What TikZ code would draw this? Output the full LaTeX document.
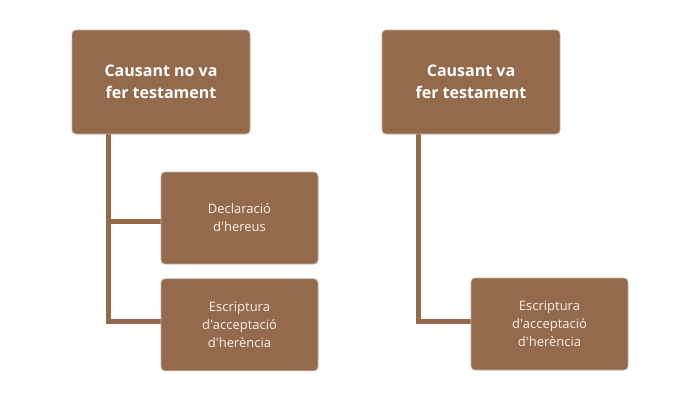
\documentclass[tikz,border=0pt]{standalone}
\usepackage{fontspec}
\setmainfont{Open Sans}
\usepackage{tikz}
\usetikzlibrary{positioning,backgrounds}
\definecolor{boxbrown}{HTML}{936A4C}
\definecolor{boxtext}{HTML}{F7EFE8}

\begin{document}
\begin{tikzpicture}[x=1pt,y=-1pt,line join=round,
                    case node/.style={rectangle,rounded corners=4pt,fill=boxbrown,draw=boxbrown!55!white,line width=0.8pt,
                      minimum width=178pt,minimum height=104pt,align=center,text=white,
                      font=\fontsize{16}{22}\selectfont\bfseries},
                    doc node/.style={rectangle,rounded corners=4pt,fill=boxbrown,draw=boxbrown!55!white,line width=0.8pt,
                      minimum width=157pt,minimum height=92pt,align=center,text=boxtext,
                      font=\fontsize{13}{18}\selectfont},
                    link/.style={draw=boxbrown,line width=5pt}]
  \useasboundingbox (0,0) rectangle (700,400);

  \node[case node] (no) at (161,82) {Causant no va\\fer testament};
  \node[case node] (yes) at (471,82) {Causant va\\fer testament};

  \node[doc node] (decl) at (239.5,218) {Declaració\\d\textquotesingle hereus};
  \node[doc node] (accA) [below=14pt of decl] {Escriptura\\d\textquotesingle acceptació\\d\textquotesingle herència};
  \node[doc node] (accB) at (549.5,324) {Escriptura\\d\textquotesingle acceptació\\d\textquotesingle herència};

  \coordinate (noroot) at ([xshift=-53pt]no.south);
  \coordinate (yesroot) at ([xshift=-53pt]yes.south);

  \begin{scope}[on background layer]
    \draw[link] (noroot) |- ([yshift=3pt]accA.west);
    \draw[link] (noroot) |- ([yshift=-3pt]decl.west);
    \draw[link] (yesroot) |- ([yshift=3pt]accB.west);
  \end{scope}
\end{tikzpicture}
\end{document}
